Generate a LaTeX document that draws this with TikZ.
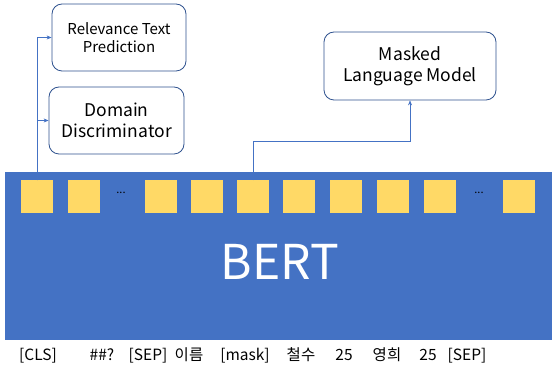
\documentclass[tikz,border=0pt]{standalone}
\usepackage{fontspec}
\setmainfont{Noto Sans CJK KR}
\usepackage{tikz}
\usetikzlibrary{positioning, calc, arrows.meta}

\definecolor{bertblue}{HTML}{4472C4}
\definecolor{tokyellow}{HTML}{FFD966}
\definecolor{boxline}{HTML}{2F528F}

\begin{document}
\begin{tikzpicture}[x=1pt, y=-1pt,
	taskbox/.style={draw=boxline, line width=0.8pt, rounded corners=10pt, fill=white, align=center, inner sep=0pt},
	tok/.style={fill=tokyellow, minimum width=32pt, minimum height=33pt, inner sep=0pt},
	word/.style={font=\fontsize{15.5}{17}\selectfont, inner sep=0pt, anchor=base},
	link/.style={draw=bertblue, line width=0.6pt, -{Stealth[length=5pt, width=4pt]}}]
		\useasboundingbox (0,0) rectangle (552,371);
		
		% encoder block
		\fill [bertblue] (5,172) rectangle (552,340);
		\node [text=white, font=\fontsize{48}{52}\selectfont, inner sep=0pt] (bert) at (280,262) {BERT};
		
		% output tokens
		\foreach \i/\x in {1/37, 2/83.5, 3/161, 4/207, 5/253, 6/299, 7/346, 8/392.5, 9/440, 10/518.5}
			\node [tok] (sq\i) at (\x,197) {};
		\node (dotsa) at (121,193) {\fontsize{11}{11}\selectfont ...};
		\node (dotsb) at (479,193) {\fontsize{11}{11}\selectfont ...};
		
		% input words
		\foreach \w/\x/\t in {a/38/[CLS], b/102/\#\#?, c/148/[SEP], d/189/이름, e/245/[mask], f/301/철수, g/344/25, h/387/영희, i/428/25, j/467/[SEP]}
			\node [word] (in\w) at (\x,361) {\t};
		
		% task heads
		\node [taskbox, minimum width=134pt, minimum height=67pt, font=\fontsize{15}{18}\selectfont] (rtp) at (119,37.5) {Relevance Text\\Prediction};
		\node [taskbox, minimum width=135pt, minimum height=67pt, font=\fontsize{17.5}{21}\selectfont] (dd) at (116.5,120.5) {Domain\\Discriminator};
		\node [taskbox, minimum width=172pt, minimum height=68pt, font=\fontsize{17.5}{21}\selectfont] (mlm) at (410,66) {Masked\\Language Model};
		
		% connectors
		\draw [link] (sq1.north) |- (rtp.west);
		\draw [link] (sq1.north) |- (dd.west);
		\coordinate (turn) at (253,141);
		\draw [link] (sq5.north) -- (turn) -| (mlm.south);
\end{tikzpicture}
\end{document}
